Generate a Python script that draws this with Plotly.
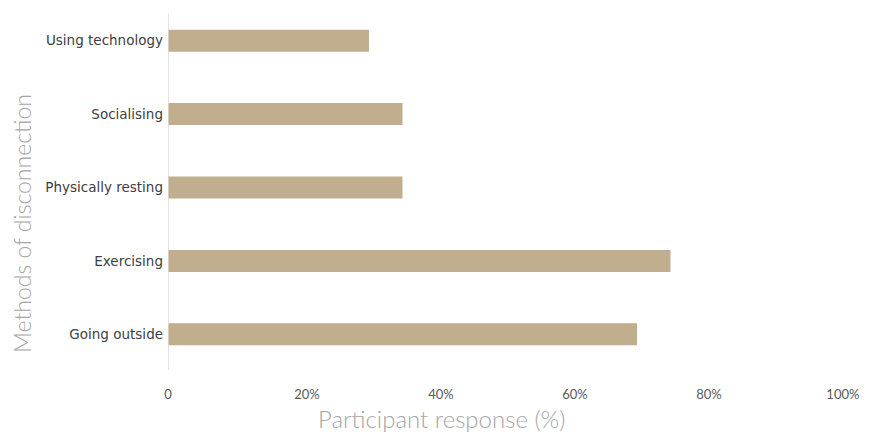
import plotly.graph_objects as go

# Methods of disconnection and share of participants using each
methods = ["Using technology", "Socialising", "Physically resting", "Exercising", "Going outside"]
response_pct = [30, 35, 35, 75, 70]

x_tick_vals = [0, 20, 40, 60, 80, 100]
x_tick_text = ["0", "20%", "40%", "60%", "80%", "100%"]

BAR_COLOR = "#C0AE8E"
FONT = "Lato, 'DejaVu Sans', sans-serif"
LABEL_FONT = "'DejaVu Sans', sans-serif"

# keep the number itself centred on its tick, with the % sign trailing
x_tick_labels = [t if not t.endswith("%") else "\u2003" + t for t in x_tick_text]

fig = go.Figure(
    go.Bar(
        x=response_pct,
        y=methods,
        orientation="h",
        marker=dict(color=BAR_COLOR, line=dict(width=0)),
        width=0.3,
        hoverinfo="x+y",
    )
)

W, H = 873, 432
m_l, m_r, m_t, m_b = 168, 35, 4, 61

fig.update_layout(
    width=W,
    height=H,
    margin=dict(l=m_l, r=m_r, t=m_t, b=m_b),
    paper_bgcolor="white",
    plot_bgcolor="white",
    showlegend=False,
    font=dict(family=FONT),
    xaxis=dict(
        range=[0, 100],
        tickvals=x_tick_vals,
        ticktext=x_tick_labels,
        showgrid=False,
        zeroline=False,
        showline=False,
        ticks="",
        ticklabelstandoff=14,
        tickfont=dict(size=13, color="#595959"),
        fixedrange=True,
    ),
    yaxis=dict(
        categoryorder="array",
        categoryarray=methods,
        range=[4.5, -0.5],
        showgrid=False,
        zeroline=False,
        showline=False,
        ticks="",
        ticklabelstandoff=4,
        tickfont=dict(size=13.5, color="#404040", family=LABEL_FONT),
        fixedrange=True,
    ),
    shapes=[
        # vertical axis line at x = 0
        dict(
            type="line",
            xref="x",
            yref="paper",
            x0=0,
            x1=0,
            y0=0.003,
            y1=0.975,
            line=dict(color="#D9D9D9", width=1.5),
        )
    ],
    annotations=[
        dict(
            text="Participant response (%)",
            xref="paper",
            yref="paper",
            x=(442 - m_l) / (W - m_l - m_r),
            y=-(418 - (H - m_b)) / (H - m_t - m_b),
            xanchor="center",
            yanchor="middle",
            showarrow=False,
            font=dict(size=24, color="#A6A6A6", family=FONT, weight=300),
        ),
        dict(
            text="Methods of disconnection",
            xref="paper",
            yref="paper",
            x=-(m_l - 22) / (W - m_l - m_r),
            y=1 - (224 - m_t) / (H - m_t - m_b),
            xanchor="center",
            yanchor="middle",
            textangle=-90,
            showarrow=False,
            font=dict(size=23, color="#A6A6A6", family=FONT, weight=300),
        ),
    ],
)

fig.write_html("out.html")
